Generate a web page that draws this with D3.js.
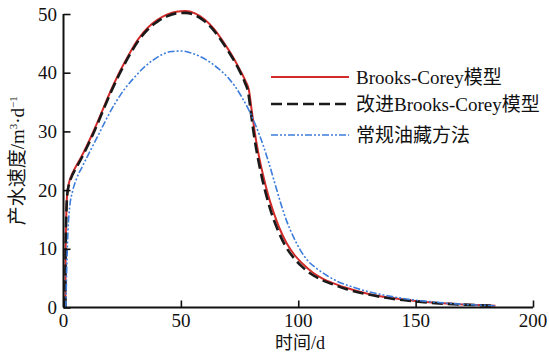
<!DOCTYPE html>
<html lang="zh">
<head>
    <meta charset="UTF-8">
    <title>产水速度</title>
    <style>
        body { margin: 0; background: #fff; }
        svg { display: block; }
        .txt { font-family: "Liberation Serif", "Times New Roman", "Noto Sans CJK SC", serif; fill: #111; }
    </style>
</head>
<body>
    <div id="chart"></div>

    <script src="https://d3js.org/d3.v7.min.js"></script>
    <script>
        // series: [time (d), rate (m3/d)]
        const brooksCorey = [
            [0.8, 0], [0.9, 9], [1.2, 16], [1.6, 19.5], [2.2, 21], [3.5, 22.6], [5, 23.8],
            [7.5, 25.6], [10, 27.6], [13, 30.2], [16.5, 33.5], [20, 36.8], [24, 40.2],
            [28, 43.2], [32, 45.8], [36, 47.7], [40, 49], [44, 49.9], [48, 50.4], [52, 50.5],
            [56, 50.1], [60, 49.1], [64, 47.5], [68, 45.3], [72, 42.8], [75, 40.6],
            [77.5, 38.6], [79, 37], [80.2, 33.5], [81.5, 29.8], [83, 26.3], [85, 22.6],
            [87, 19.4], [89.5, 16.2], [92, 13.5], [95, 11], [98.5, 8.9], [102, 7.4],
            [106, 6], [110, 5], [115, 4.1], [120, 3.4], [130, 2.3], [140, 1.6],
            [150, 1.1], [160, 0.75], [170, 0.5], [184, 0.3]
        ];
        const improvedBC = [
            [0.8, 0], [0.9, 9], [1.2, 15.8], [1.6, 19.2], [2.2, 20.7], [3.5, 22.3], [5, 23.5],
            [7.5, 25.3], [10, 27.3], [13, 29.9], [16.5, 33.2], [20, 36.5], [24, 39.9],
            [28, 42.9], [32, 45.5], [36, 47.4], [40, 48.7], [44, 49.6], [48, 50.1], [52, 50.2],
            [56, 49.8], [60, 48.8], [64, 47.2], [68, 45], [72, 42.5], [75, 40.3],
            [77.3, 38.3], [78.7, 36.6], [79.9, 33], [81.2, 29.2], [82.7, 25.7], [84.6, 22],
            [86.6, 18.8], [89, 15.6], [91.5, 13], [94.5, 10.5], [98, 8.5], [101.5, 7],
            [105.5, 5.7], [110, 4.7], [115, 3.9], [120, 3.2], [130, 2.2], [140, 1.5],
            [150, 1.05], [160, 0.7], [170, 0.5], [184, 0.3]
        ];
        const conventional = [
            [1, 0], [1.4, 7], [1.9, 13], [2.6, 17], [3.8, 19.7], [5.5, 21.9], [8, 24],
            [11, 26.4], [14.5, 29.1], [18, 31.9], [22, 34.8], [26, 37.2], [30, 39.1],
            [34, 40.8], [38, 42.1], [42, 43.1], [46, 43.6], [50, 43.7], [54, 43.4],
            [58, 42.8], [62, 41.9], [66, 40.7], [70, 39.2], [73, 37.7], [76, 35.8],
            [79, 33.6], [82, 30.9], [85, 27.7], [87.5, 24.6], [90, 21.2], [92.5, 17.8],
            [95, 14.8], [98, 12], [101, 9.7], [104, 8], [108, 6.6], [112, 5.5],
            [117, 4.4], [123, 3.5], [130, 2.7], [140, 1.85], [150, 1.25], [160, 0.85],
            [170, 0.55], [184, 0.3]
        ];

        const xTicks = [0, 50, 100, 150, 200];
        const yTicks = [0, 10, 20, 30, 40, 50];
        const legendLabels = ["Brooks-Corey模型", "改进Brooks-Corey模型", "常规油藏方法"];

        const width = 549, height = 353;

        const svg = d3.select("#chart").append("svg")
            .attr("width", width)
            .attr("height", height);

        const x = d3.scaleLinear().domain([0, 200]).range([63.5, 533]);
        const y = d3.scaleLinear().domain([0, 50]).range([307.5, 14]);

        const series = [
            { data: brooksCorey, color: "#d32a2a", width: 2, dash: null },
            { data: improvedBC, color: "#1a1a1a", width: 2.6, dash: "11,5" },
            { data: conventional, color: "#3d7ddb", width: 1.6, dash: "7,2,2,2,2,2" }
        ];

        const line = d3.line()
            .x(d => x(d[0]))
            .y(d => y(d[1]))
            .curve(d3.curveMonotoneX);

        // curves
        svg.append("g")
            .selectAll("path")
            .data(series)
            .join("path")
            .attr("fill", "none")
            .attr("stroke", d => d.color)
            .attr("stroke-width", d => d.width)
            .attr("stroke-dasharray", d => d.dash)
            .attr("d", d => line(d.data));

        // axes: ticks point inward, no frame on top/right
        const xAxis = svg.append("g")
            .attr("transform", `translate(0,${y(0)})`)
            .call(d3.axisTop(x).tickValues(xTicks).tickSize(7).tickFormat(""));
        const yAxis = svg.append("g")
            .attr("transform", `translate(${x(0)},0)`)
            .call(d3.axisRight(y).tickValues(yTicks).tickSize(7).tickFormat(""));

        [xAxis, yAxis].forEach(a => {
            a.select(".domain").attr("stroke", "#111").attr("stroke-width", 2);
            a.selectAll(".tick line").attr("stroke", "#111").attr("stroke-width", 1.6);
        });
        xAxis.select(".domain").attr("d", `M${x(0)},0H${x(200)}`);
        yAxis.select(".domain").attr("d", `M0,${y(0)}V${y(50)}`);

        // tick labels
        svg.append("g").selectAll("text")
            .data(xTicks)
            .join("text")
            .attr("class", "txt")
            .attr("x", d => x(d))
            .attr("y", 327)
            .attr("text-anchor", "middle")
            .attr("font-size", 19)
            .text(d => d);

        svg.append("g").selectAll("text")
            .data(yTicks)
            .join("text")
            .attr("class", "txt")
            .attr("x", 57)
            .attr("y", d => y(d) + 6.5)
            .attr("text-anchor", "end")
            .attr("font-size", 19)
            .text(d => d);

        // axis titles
        svg.append("text")
            .attr("class", "txt")
            .attr("x", 300)
            .attr("y", 349)
            .attr("text-anchor", "middle")
            .attr("font-size", 18)
            .text("时间/d");

        const yTitle = svg.append("text")
            .attr("class", "txt")
            .attr("transform", `translate(24,${(y(0) + y(50)) / 2}) rotate(-90)`)
            .attr("text-anchor", "middle")
            .attr("font-size", 19);
        yTitle.append("tspan").text("产水速度/m");
        yTitle.append("tspan").attr("font-size", 11).attr("dy", -7).text("3");
        yTitle.append("tspan").attr("dy", 7).text("·d");
        yTitle.append("tspan").attr("font-size", 11).attr("dy", -7).text("−1");

        // legend
        const legend = svg.append("g")
            .selectAll("g")
            .data(series)
            .join("g")
            .attr("transform", (d, i) => `translate(271,${[77, 104, 135][i]})`);

        legend.append("line")
            .attr("x1", 0).attr("x2", 78)
            .attr("stroke", d => d.color)
            .attr("stroke-width", d => d.width)
            .attr("stroke-dasharray", d => d.dash);

        legend.append("text")
            .attr("class", "txt")
            .attr("x", 85)
            .attr("y", 6.5)
            .attr("font-size", 19)
            .text((d, i) => legendLabels[i]);
    </script>
</body>
</html>
